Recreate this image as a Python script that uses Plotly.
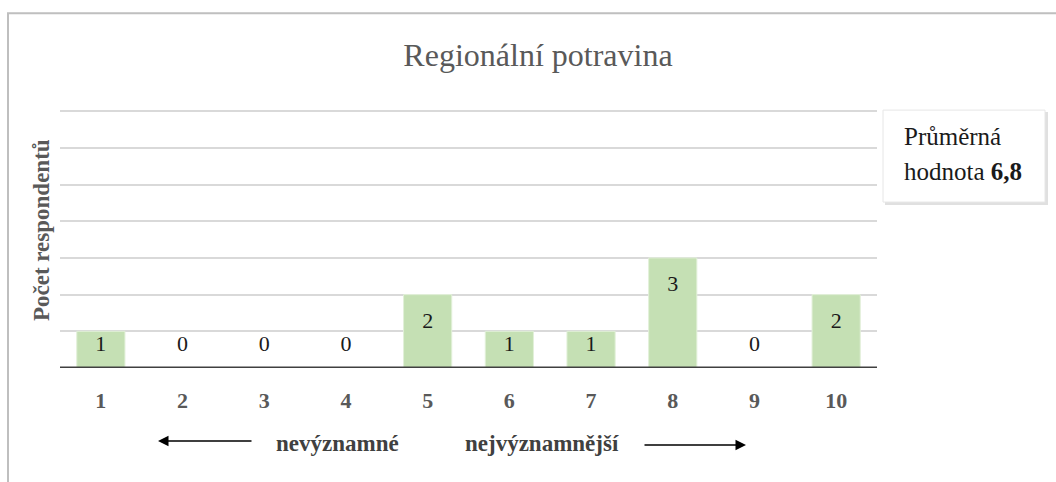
import plotly.graph_objects as go

categories = [1, 2, 3, 4, 5, 6, 7, 8, 9, 10]
values = [1, 0, 0, 0, 2, 1, 1, 3, 0, 2]
title_text = "Regionální potravina"
y_title = "Počet respondentů"
avg_label_1 = "Průměrná"
avg_label_2 = "hodnota <b>6,8</b>"
left_note = "nevýznamné"
right_note = "nejvýznamnější"

W, H = 1056, 482
YMAX = 7.03
L, R, B = 60, 877, 368
T = B - YMAX * (368 - 111) / 7.0
pw, ph = R - L, B - T

def px(x):
    return (x - L) / pw

def py(y):
    return (B - y) / ph

FONT = "'Liberation Serif', 'Times New Roman', serif"
GRAY = "#595959"

label_y = [max(v - 0.76, 0.62) for v in values]

fig = go.Figure()
fig.add_trace(go.Bar(
    x=categories, y=values,
    marker=dict(color="#c5e0b4", line=dict(color="#e2f0d9", width=1)),
    width=0.59, hoverinfo="skip",
))
fig.add_trace(go.Scatter(
    x=categories, y=label_y, mode="text",
    text=[str(v) for v in values],
    textfont=dict(family=FONT, size=22, color="#1a1a1a"),
    textposition="middle center", hoverinfo="skip",
))

shapes = []
shapes.append(dict(type="rect", xref="paper", yref="paper",
                   x0=px(8), x1=px(1070), y0=py(13), y1=py(500),
                   line=dict(color="#bfbfbf", width=2), fillcolor="rgba(0,0,0,0)", layer="below"))
shapes.append(dict(type="line", xref="paper", yref="y", x0=0, x1=1, y0=0, y1=0,
                   line=dict(color="#404040", width=3)))
shapes.append(dict(type="rect", xref="paper", yref="paper",
                   x0=px(885), x1=px(1048), y0=py(205), y1=py(112),
                   line=dict(width=0), fillcolor="rgba(0,0,0,0.12)"))
shapes.append(dict(type="rect", xref="paper", yref="paper",
                   x0=px(883), x1=px(1045), y0=py(202), y1=py(110),
                   line=dict(color="#e6e6e6", width=1), fillcolor="white"))

annotations = [
    dict(text="<b>" + y_title + "</b>", xref="paper", yref="paper", x=px(41), y=py(230),
         textangle=-90, showarrow=False,
         font=dict(family=FONT, size=23, color=GRAY), xanchor="center", yanchor="middle"),
    dict(text=avg_label_1, xref="paper", yref="paper", x=px(902), y=py(136),
         showarrow=False, xanchor="left", yanchor="middle",
         font=dict(family=FONT, size=25, color="#1a1a1a")),
    dict(text=avg_label_2, xref="paper", yref="paper", x=px(902), y=py(171),
         showarrow=False, xanchor="left", yanchor="middle",
         font=dict(family=FONT, size=25, color="#1a1a1a")),
    dict(text="<b>" + left_note + "</b>", xref="paper", yref="paper", x=px(337), y=py(444),
         showarrow=False, xanchor="center", yanchor="middle",
         font=dict(family=FONT, size=23, color="#404040")),
    dict(text="<b>" + right_note + "</b>", xref="paper", yref="paper", x=px(542), y=py(444),
         showarrow=False, xanchor="center", yanchor="middle",
         font=dict(family=FONT, size=23, color="#404040")),
    dict(text="", xref="paper", yref="paper", x=px(158), y=py(441),
         ax=95, ay=0, axref="pixel", ayref="pixel",
         showarrow=True, arrowhead=2, arrowsize=1.4, arrowwidth=1.5, arrowcolor="black"),
    dict(text="", xref="paper", yref="paper", x=px(746), y=py(445),
         ax=-103, ay=0, axref="pixel", ayref="pixel",
         showarrow=True, arrowhead=2, arrowsize=1.4, arrowwidth=1.5, arrowcolor="black"),
]

fig.update_layout(
    width=W, height=H,
    margin=dict(l=L, r=W - R, t=T, b=H - B, pad=0),
    paper_bgcolor="white", plot_bgcolor="white",
    showlegend=False,
    title=dict(text=title_text, x=538 / W, xanchor="center", y=1 - 55 / H, yanchor="middle",
               font=dict(family=FONT, size=32, color=GRAY)),
    xaxis=dict(range=[0.5, 10.5], tickvals=categories,
               ticktext=["<b>%d</b>" % c for c in categories],
               tickfont=dict(family=FONT, size=22, color=GRAY),
               showgrid=False, zeroline=False, showline=False, ticks="", ticklabelstandoff=17,
               fixedrange=True),
    yaxis=dict(range=[0, YMAX], tickvals=[1, 2, 3, 4, 5, 6, 7], showticklabels=False, showgrid=True,
               gridcolor="#d9d9d9", gridwidth=1.5, zeroline=False, showline=False,
               fixedrange=True),
    bargap=0.41,
    shapes=shapes,
    annotations=annotations,
)

fig.write_html("out.html", config={"displayModeBar": False},
               post_script="document.body.style.margin='0';document.body.style.padding='0';")
